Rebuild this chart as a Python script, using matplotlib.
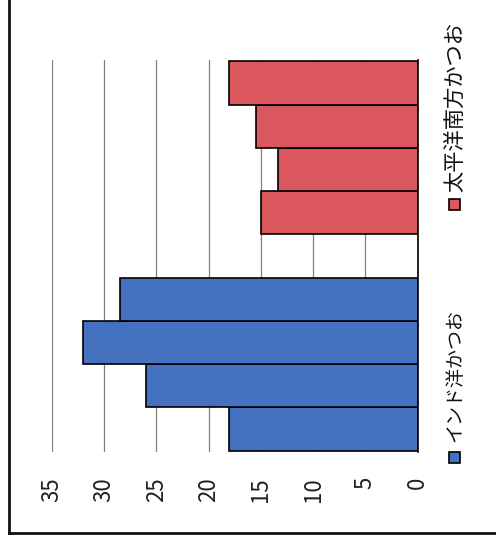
import matplotlib.pyplot as plt
from matplotlib.patches import Rectangle
from matplotlib.lines import Line2D

plt.rcParams['font.family'] = ['Noto Sans CJK JP', 'DejaVu Sans']

# values for each fish group (slot 4 is left empty between the groups)
indian = [18, 26, 32, 28.5]
pacific = [15, 13.4, 15.5, 18]
indian_pos = [0, 1, 2, 3]
pacific_pos = [5, 6, 7, 8]
series_names = ['インド洋かつお', '太平洋南方かつお']
ticks = [0, 5, 10, 15, 20, 25, 30, 35]

blue = '#4471C0'
red = '#D9575D'

fig = plt.figure(figsize=(4.96, 5.5), dpi=100)
W, H = 496, 550

# axes placed in pixel terms, chart drawn turned on its side
left, right, top, bottom = 51.7, 417.7, 60, 452
ax = fig.add_axes([left / W, 1 - bottom / H, (right - left) / W, (bottom - top) / H])

ax.barh(indian_pos, indian, height=1.0, color=blue, edgecolor='black', linewidth=1.2, zorder=3)
ax.barh(pacific_pos, pacific, height=1.0, color=red, edgecolor='black', linewidth=1.2, zorder=3)

ax.set_xlim(35, 0)
ax.set_ylim(-0.53, 8.53)
ax.set_xticks(ticks)
ax.set_xticklabels([str(t) for t in ticks], rotation=90, fontsize=16, color='#222222')
ax.tick_params(axis='x', length=0, pad=18)
ax.set_yticks([])
ax.grid(axis='x', color='#808080', linewidth=0.9, zorder=0)
for side in ['left', 'top', 'bottom']:
    ax.spines[side].set_visible(False)
ax.spines['right'].set_color('black')
ax.spines['right'].set_linewidth(1.2)
ax.spines['right'].set_zorder(4)

# legend entries written sideways
def legend_entry(text, color, marker_y, text_y, size):
    x = 455
    s = 11
    fig.patches.append(Rectangle(((x - 1 - s / 2) / W, 1 - (marker_y + s / 2) / H), s / W, s / H,
                                 transform=fig.transFigure, facecolor=color,
                                 edgecolor='black', linewidth=1.2))
    fig.text(x / W, 1 - text_y / H, text, rotation=90, ha='center', va='bottom',
             fontsize=size, color='#111111')

legend_entry(series_names[0], blue, 457.5, 442, 13.7)
legend_entry(series_names[1], red, 204, 192, 15.3)

# outer frame
fig.add_artist(Line2D([9 / W, 9 / W], [1, 1 - 533 / H], transform=fig.transFigure,
                      color='#111111', linewidth=2))
fig.add_artist(Line2D([9 / W, 1], [1 - 533 / H, 1 - 533 / H], transform=fig.transFigure,
                      color='#111111', linewidth=2))

fig.savefig('out.png', dpi=100)
